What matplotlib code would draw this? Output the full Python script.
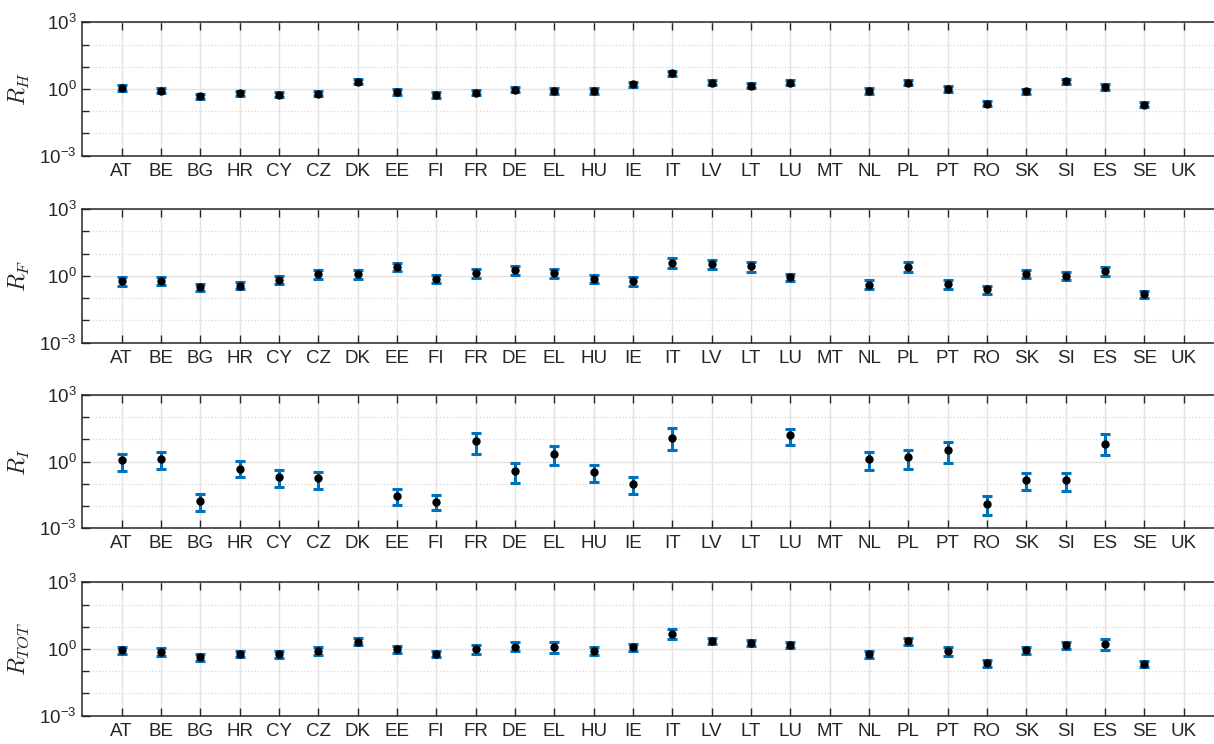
import numpy as np
import matplotlib
matplotlib.use("Agg")
import matplotlib.pyplot as plt
from matplotlib.ticker import FixedLocator, NullFormatter

plt.rcParams['font.family'] = ['Liberation Sans', 'DejaVu Sans']
plt.rcParams['mathtext.fontset'] = 'cm'

countries = ['AT', 'BE', 'BG', 'HR', 'CY', 'CZ', 'DK', 'EE', 'FI', 'FR', 'DE', 'EL', 'HU', 'IE',
             'IT', 'LV', 'LT', 'LU', 'MT', 'NL', 'PL', 'PT', 'RO', 'SK', 'SI', 'ES', 'SE', 'UK']
nan = np.nan

# R_H
rh_val = [1.1, 0.84, 0.47, 0.64, 0.56, 0.6, 2.1, 0.73, 0.54, 0.68, 0.93, 0.81, 0.81, 1.6,
          5.1, 1.9, 1.4, 1.9, nan, 0.81, 1.9, 1.0, 0.22, 0.79, 2.2, 1.23, 0.2, nan]
rh_lo = [0.83, 0.64, 0.36, 0.49, 0.43, 0.46, 1.6, 0.55, 0.41, 0.52, 0.7, 0.62, 0.62, 1.22,
         3.9, 1.45, 1.07, 1.45, nan, 0.62, 1.45, 0.76, 0.17, 0.6, 1.68, 0.94, 0.15, nan]
rh_hi = [1.45, 1.1, 0.62, 0.84, 0.74, 0.79, 2.8, 0.96, 0.71, 0.9, 1.23, 1.07, 1.07, 2.1,
         6.7, 2.5, 1.85, 2.5, nan, 1.07, 2.5, 1.32, 0.29, 1.04, 2.9, 1.62, 0.26, nan]

# R_F
rf_val = [0.59, 0.6, 0.32, 0.36, 0.67, 1.17, 1.17, 2.5, 0.72, 1.34, 1.8, 1.3, 0.72, 0.59,
          3.9, 3.3, 2.7, 0.86, nan, 0.4, 2.5, 0.43, 0.25, 1.17, 0.98, 1.59, 0.15, nan]
rf_lo = [0.35, 0.37, 0.21, 0.25, 0.43, 0.74, 0.74, 1.6, 0.46, 0.83, 1.12, 0.83, 0.46, 0.36,
         2.2, 1.95, 1.54, 0.57, nan, 0.26, 1.55, 0.27, 0.16, 0.77, 0.63, 0.95, 0.098, nan]
rf_hi = [0.86, 0.89, 0.45, 0.53, 0.98, 1.8, 1.8, 3.6, 1.05, 2.0, 2.9, 2.0, 1.09, 0.86,
         6.3, 5.1, 4.2, 1.26, nan, 0.63, 4.0, 0.67, 0.35, 1.77, 1.54, 2.5, 0.22, nan]

# R_I
ri_val = [1.13, 1.34, 0.017, 0.49, 0.2, 0.175, nan, 0.028, 0.016, 8.1, 0.37, 2.1, 0.34, 0.1,
          11.7, nan, nan, 15.5, nan, 1.25, 1.65, 3.3, 0.013, 0.15, 0.15, 6.3, nan, nan]
ri_lo = [0.37, 0.46, 0.006, 0.195, 0.071, 0.059, nan, 0.011, 0.0065, 2.3, 0.11, 0.7, 0.12, 0.035,
         3.3, nan, nan, 5.7, nan, 0.42, 0.49, 0.91, 0.004, 0.053, 0.049, 1.9, nan, nan]
ri_hi = [2.2, 2.8, 0.036, 1.02, 0.42, 0.36, nan, 0.056, 0.03, 19.6, 0.83, 5.3, 0.72, 0.2,
         32, nan, nan, 31, nan, 2.7, 3.5, 7.8, 0.027, 0.32, 0.32, 17.4, nan, nan]

# R_TOT
rt_val = [0.87, 0.76, 0.42, 0.6, 0.58, 0.84, 2.1, 0.97, 0.6, 0.97, 1.27, 1.19, 0.81, 1.19,
          4.9, 2.37, 1.86, 1.51, nan, 0.58, 2.3, 0.81, 0.23, 0.9, 1.51, 1.74, 0.21, nan]
rt_lo = [0.6, 0.5, 0.29, 0.42, 0.4, 0.54, 1.46, 0.66, 0.42, 0.6, 0.84, 0.66, 0.56, 0.84,
         2.7, 1.62, 1.32, 1.07, nan, 0.38, 1.57, 0.48, 0.16, 0.62, 1.03, 0.9, 0.155, nan]
rt_hi = [1.23, 1.1, 0.6, 0.84, 0.84, 1.27, 3.0, 1.41, 0.84, 1.57, 2.0, 2.07, 1.19, 1.62,
         8.2, 3.2, 2.6, 2.07, nan, 0.84, 3.2, 1.27, 0.33, 1.23, 2.1, 2.9, 0.29, nan]

panels = [
    (r'$R_H$', rh_val, rh_lo, rh_hi),
    (r'$R_F$', rf_val, rf_lo, rf_hi),
    (r'$R_I$', ri_val, ri_lo, ri_hi),
    (r'$R_{TOT}$', rt_val, rt_lo, rt_hi),
]

# axes boxes in pixels (top, bottom)
boxes = [(22.3, 155.7), (209, 342.7), (395, 528.3), (582.3, 715.7)]
W, H = 1214, 744
left_px, right_px = 82.3, 1223

fig = plt.figure(figsize=(W / 100, H / 100), dpi=100)
x = np.arange(1, len(countries) + 1)
blue = '#0072BD'
spine_c = '#262626'

for (lab, val, lo, hi), (top, bot) in zip(panels, boxes):
    ax = fig.add_axes([left_px / W, 1 - bot / H, (right_px - left_px) / W, (bot - top) / H])
    val = np.array(val, dtype=float)
    lo = np.array(lo, dtype=float)
    hi = np.array(hi, dtype=float)
    yerr = np.vstack([val - lo, hi - val])
    ax.errorbar(x, val, yerr=yerr, fmt='none', ecolor=blue, elinewidth=2.2,
                capsize=3.4, capthick=2.2, zorder=3)
    ax.plot(x, val, 'o', color='black', markersize=5, zorder=4)

    ax.set_yscale('log')
    ax.set_ylim(1e-3, 1e3)
    ax.set_xlim(0, 29)
    ax.yaxis.set_major_locator(FixedLocator([1e-3, 1e0, 1e3]))
    ax.yaxis.set_minor_locator(FixedLocator([1e-2, 1e-1, 1e1, 1e2]))
    ax.yaxis.set_minor_formatter(NullFormatter())
    ax.set_yticklabels([r'$\mathregular{10^{-3}}$', r'$\mathregular{10^{0}}$',
                        r'$\mathregular{10^{3}}$'], fontsize=13.5)
    ax.set_xticks(x)
    ax.set_xticklabels(countries, fontsize=13.5)

    ax.tick_params(axis='both', which='both', direction='in', top=True, right=True,
                   color=spine_c, labelcolor=spine_c, width=1)
    ax.tick_params(axis='x', length=6, pad=5)
    ax.tick_params(axis='y', which='major', length=6, pad=4)
    ax.tick_params(axis='y', which='minor', length=5)

    ax.grid(True, which='major', color='#e3e3e3', linewidth=1, linestyle='-')
    ax.grid(True, which='minor', axis='y', color='#d8d8d8', linewidth=0.9, linestyle=':')
    ax.set_axisbelow(True)
    for s in ax.spines.values():
        s.set_color(spine_c)
        s.set_linewidth(1.1)

    ax.set_ylabel(lab, fontsize=17, color=spine_c, rotation=90, va='center')
    ax.yaxis.set_label_coords((19 - left_px) / (right_px - left_px), 0.5)

fig.savefig('out.png', dpi=100)
